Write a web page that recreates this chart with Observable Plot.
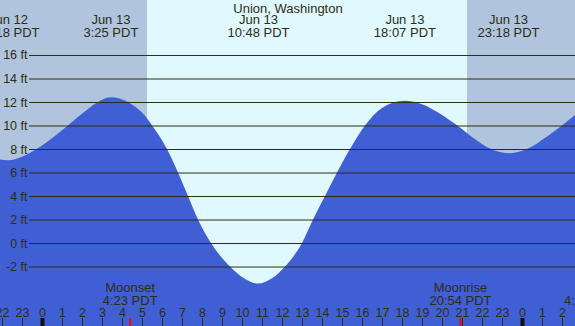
<!DOCTYPE html>
<html>
<head>
<meta charset="utf-8">
<script src="https://cdn.jsdelivr.net/npm/d3@7"></script>
<script src="https://cdn.jsdelivr.net/npm/@observablehq/plot@0.6"></script>
<style>
  html, body { margin: 0; padding: 0; background: #fff; }
  #chart svg { display: block; }
</style>
</head>
<body>
<div id="chart"></div>
<script>
// ---- Data (hours relative to Jun 13 00:00 PDT) ----
const title = "Union, Washington";

// tide curve
const tideHours = [-2.1, -1.7, -1.0, 0.0, 1.0, 2.0, 2.7, 3.42, 4.4, 5.0, 5.55, 6.25, 6.8, 7.3, 7.8, 8.45, 9.4, 10.1, 10.8, 11.5, 12.15, 13.0, 13.55, 14.15, 14.75, 15.4, 16.15, 17.0, 18.12, 19.0, 19.9, 20.8, 21.6, 22.4, 23.3, 24.3, 25.2, 26.0, 26.65];
const tideFeet  = [7.1, 7.05, 7.35, 8.3, 9.6, 11.0, 11.9, 12.4, 11.9, 11.1, 9.9, 8.0, 6.0, 4.0, 2.0, 0.0, -2.0, -3.0, -3.45, -3.0, -2.0, 0.0, 2.0, 4.0, 6.0, 8.0, 10.0, 11.5, 12.1, 11.8, 11.0, 9.95, 8.9, 8.05, 7.65, 8.05, 9.0, 10.0, 10.9];

// high / low tide labels
const extremeHours = [-1.7, 3.42, 10.8, 18.12, 23.3];
const extremeDays  = ["Jun 12", "Jun 13", "Jun 13", "Jun 13", "Jun 13"];
const extremeTimes = ["22:18 PDT", "3:25 PDT", "10:48 PDT", "18:07 PDT", "23:18 PDT"];

// day / night
const nightStarts = [-2.1, 21.25];
const nightEnds   = [5.25, 26.65];
const dayStarts   = [5.25];
const dayEnds     = [21.25];

// moon events
const moonHours  = [4.383, 20.9];
const moonNames  = ["Moonset", "Moonrise"];
const moonTimes  = ["4:23 PDT", "20:54 PDT"];
const moonNextHour = 27.45;
const moonNextText = "4:32 PDT";

// y grid levels (ft)
const gridLevels = [-2, 0, 2, 4, 6, 8, 10, 12, 14, 16];

// hour ticks
const tickHours  = [-2, -1, 0, 1, 2, 3, 4, 5, 6, 7, 8, 9, 10, 11, 12, 13, 14, 15, 16, 17, 18, 19, 20, 21, 22, 23, 24, 25, 26];
const tickLabels = ["22","23","0","1","2","3","4","5","6","7","8","9","10","11","12","13","14","15","16","17","18","19","20","21","22","23","0","1","2"];
const midnightHours = [0, 24];

// ---- Build tables ----
const tide = tideHours.map((t, i) => ({t, ft: tideFeet[i]}));
const extremes = extremeHours.map((t, i) => ({t, label: extremeDays[i] + "\n" + extremeTimes[i]}));
const nights = nightStarts.map((s, i) => ({s, e: nightEnds[i]}));
const days = dayStarts.map((s, i) => ({s, e: dayEnds[i]}));
const moons = moonHours.map((t, i) => ({t, label: moonNames[i] + "\n" + moonTimes[i]}));
const ticks = tickHours.map((t, i) => ({t, label: tickLabels[i]}));

const xDomain = [-2.1, 26.65];
const yDomain = [-7.06, 20.68];
const ink = "#2d2d12";
const font = "'Liberation Sans', Arial, sans-serif";

const chart = Plot.plot({
  width: 575,
  height: 326,
  margin: 0,
  x: {domain: xDomain, axis: null},
  y: {domain: yDomain, axis: null},
  style: {fontFamily: font, fontSize: "12px", background: "#e0f8ff", overflow: "hidden"},
  marks: [
    Plot.rect(days, {x1: "s", x2: "e", fill: "#e0f8ff"}),
    Plot.rect(nights, {x1: "s", x2: "e", fill: "#b0c4de"}),
    Plot.areaY(tide, {x: "t", y1: yDomain[0], y2: "ft", curve: "monotone-x", fill: "#415fd5"}),
    Plot.ruleY(gridLevels, {y: d => d, stroke: ink, strokeWidth: 1, insetLeft: 29}),
    Plot.text(gridLevels, {y: d => d, text: d => `${d} ft`, frameAnchor: "left", dx: 27, textAnchor: "end", fill: ink, fontSize: 12.5}),
    Plot.text([title], {text: d => d, frameAnchor: "top", dy: 3, lineAnchor: "top", fill: ink, fontSize: 13}),
    Plot.text(extremes, {x: "t", text: "label", frameAnchor: "top", dy: 15, lineAnchor: "top", lineHeight: 0.95, fill: ink, fontSize: 13}),
    Plot.text(moons, {x: "t", text: "label", frameAnchor: "bottom", dy: -44, lineAnchor: "top", lineHeight: 1.0, fill: ink, fontSize: 13}),
    Plot.text([moonNextText], {x: () => moonNextHour, text: d => d, frameAnchor: "bottom", dy: -31, lineAnchor: "top", fill: ink, fontSize: 13}),
    Plot.text(ticks, {x: "t", text: "label", frameAnchor: "bottom", dy: -18.5, lineAnchor: "top", fill: ink, fontSize: 12.5}),
    Plot.ruleX(ticks, {x: "t", stroke: ink, strokeWidth: 1, insetTop: 318}),
    Plot.ruleX(midnightHours, {x: d => d, stroke: "#111", strokeWidth: 4, insetTop: 318}),
    Plot.ruleX(moonHours, {x: d => d, stroke: "#ff0000", strokeWidth: 2, insetTop: 318})
  ]
});
document.getElementById("chart").appendChild(chart);
</script>
</body>
</html>
